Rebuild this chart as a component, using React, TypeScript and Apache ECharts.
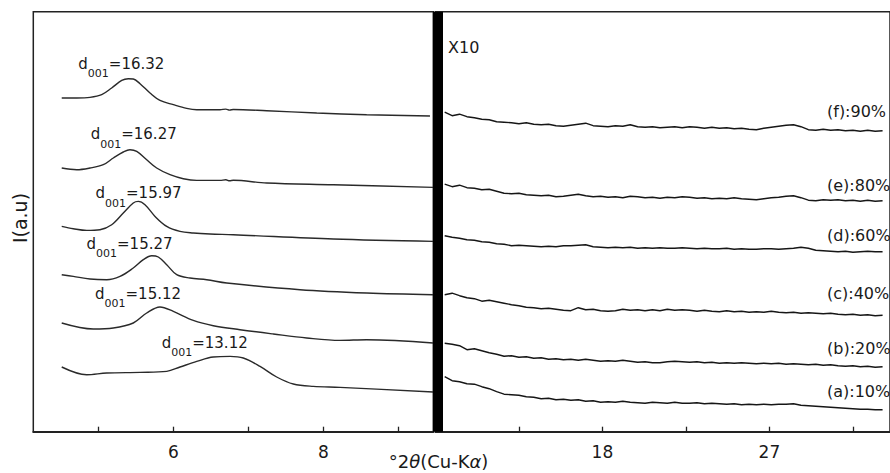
import React, { useEffect, useRef } from "react";
import * as echarts from "echarts";

// ---------- data (x: °2θ, y: intensity a.u., curves stacked) ----------
const D_SPACINGS = ["16.32", "16.27", "15.97", "15.27", "15.12", "13.12"];
const SAMPLE_LABELS = ["(f):90%", "(e):80%", "(d):60%", "(c):40%", "(b):20%", "(a):10%"];

const LEFT_TICKS = [5, 6, 7, 8, 9];
const LEFT_TICK_LABELS = [6, 8];
const RIGHT_TICKS = [13.5, 18, 22.5, 27, 31.5];
const RIGHT_TICK_LABELS = [18, 27];

const LEFT_F: [number, number][] = [
  [4.512, 333.7], [4.712, 333.7], [4.889, 334.3], [5.045, 337], [5.178, 343.7], [5.312, 351.3],
  [5.4, 353], [5.466, 352.7], [5.556, 348], [5.689, 338.7], [5.822, 331.3], [6.0, 327],
  [6.178, 323.3], [6.312, 322], [6.622, 322], [6.7, 322.6], [6.75, 321.6], [6.8, 322.2],
  [7.245, 321], [7.912, 318.7], [8.578, 317], [9.422, 315.7],
];
const LEFT_E: [number, number][] = [
  [4.512, 263.7], [4.712, 262], [4.889, 263.7], [5.066, 267], [5.2, 273.7], [5.333, 279.7],
  [5.422, 282], [5.512, 280.3], [5.645, 272], [5.778, 263.7], [5.956, 257], [6.133, 253],
  [6.312, 251.3], [6.622, 251.3], [6.7, 251.9], [6.75, 250.9], [6.8, 251.4], [7.245, 248.7],
  [8.133, 247], [9.466, 244.3],
];
const LEFT_D: [number, number][] = [
  [4.512, 205.3], [4.666, 203], [4.845, 201.3], [5.022, 202], [5.178, 207], [5.333, 218.7],
  [5.466, 228.7], [5.533, 230.3], [5.622, 227], [5.756, 215.3], [5.912, 205.3], [6.089, 200.3],
  [6.266, 198.7], [6.489, 197.7], [6.8, 197], [8.133, 192.7], [9.466, 190.3],
];
const LEFT_C: [number, number][] = [
  [4.512, 157], [4.666, 155.3], [4.889, 152.7], [5.112, 152], [5.289, 155.3], [5.466, 163.7],
  [5.6, 172], [5.712, 176], [5.8, 174.7], [5.912, 167], [6.045, 157], [6.222, 153.7],
  [6.445, 152], [6.712, 148.7], [7.689, 142], [8.578, 138.7], [9.466, 137],
];
const LEFT_B: [number, number][] = [
  [4.512, 108.7], [4.933, 102.7], [5.2, 103.7], [5.466, 108.7], [5.645, 118.7], [5.822, 124.7],
  [6.0, 120.3], [6.266, 111.3], [6.533, 106], [6.889, 102], [7.333, 97.7], [7.778, 93.7],
  [8.222, 91.3], [8.578, 92], [9.466, 88.7],
];
const LEFT_A: [number, number][] = [
  [4.512, 64.7], [4.845, 57], [5.112, 58.7], [5.556, 59.3], [5.912, 60.3], [6.089, 64.7],
  [6.312, 70.3], [6.533, 74.7], [6.756, 75.3], [6.933, 73.7], [7.156, 65.3], [7.378, 54.7],
  [7.6, 47.7], [7.866, 45.3], [8.222, 44.3], [9.466, 39.7],
];

const RIGHT_X = [
  9.5, 9.9, 10.3, 10.7, 11.1, 11.5, 11.9, 12.3, 12.7, 13.1, 13.5, 13.9, 14.3, 14.7, 15.1, 15.5,
  15.9, 16.3, 16.7, 17.1, 17.5, 17.9, 18.3, 18.7, 19.1, 19.5, 19.9, 20.3, 20.7, 21.1, 21.5, 21.9,
  22.3, 22.7, 23.1, 23.5, 23.9, 24.3, 24.7, 25.1, 25.5, 25.9, 26.3, 26.7, 27.1, 27.5, 27.9, 28.3,
  28.7, 29.1, 29.5, 29.9, 30.3, 30.7, 31.1, 31.5, 31.9, 32.3, 32.7, 33.1,
];
const RIGHT_F = [
  319.5, 316, 317.5, 315, 314, 312.5, 312, 310, 309.5, 309, 308, 309, 307.5, 307, 307.5, 306,
  305.5, 306.5, 307.5, 308.5, 306, 305.5, 305, 306, 305.5, 307, 305, 304.5, 305, 304, 304.5, 305,
  304, 305, 304.5, 303.5, 304.5, 303.5, 304, 303, 303.5, 302.5, 302, 303.5, 304.5, 305.5, 306.5, 307,
  305, 302, 301.5, 302.5, 301.5, 302, 301, 301.5, 300.5, 301.5, 300.5, 301,
];
const RIGHT_E = [
  247.5, 245, 246.5, 244, 243.5, 242, 242.5, 240.5, 238.5, 238, 238.5, 237, 236.5, 236, 236.5, 235,
  235.5, 236.5, 237.5, 236, 235, 235.5, 234.5, 235, 234, 235.5, 235, 234, 234.5, 233.5, 234.5, 234,
  235, 234.5, 233.5, 234, 233, 233.5, 233, 234, 233, 232.5, 232, 233, 234, 234.5, 235.5, 236,
  234, 231.5, 231, 232, 231.5, 232, 231, 231.5, 230.5, 231.5, 230.5, 231,
];
const RIGHT_D = [
  196, 194.5, 193.5, 192, 191.5, 190, 189.5, 188, 187.5, 186, 186.5, 186, 185.5, 185, 185.5, 185,
  186, 186, 186.5, 187, 185, 184.5, 184, 184.5, 184, 184.5, 183.5, 184, 183.5, 184, 183.5, 183.5,
  184, 183.5, 183, 183.5, 183, 183, 183.5, 182.5, 183, 182.5, 182.5, 183, 183, 182.5, 183, 183.5,
  184.5, 183.5, 181.5, 181, 180.5, 180, 180.5, 179.5, 180, 180.5, 180, 180,
];
const RIGHT_C = [
  137, 138.5, 136, 134, 133, 130.5, 131.5, 130, 128.5, 127, 126, 124.5, 124, 123, 123.5, 122.5,
  121.5, 121, 124, 122, 122.5, 121, 120.5, 121, 122.5, 121.5, 122, 121, 122, 121, 122.5, 121.5,
  122, 121.5, 120.5, 121.5, 120.5, 120, 121, 120, 120.5, 119.5, 120, 119.5, 120.5, 119.5, 119, 119.5,
  118.5, 119, 118.5, 118, 118.5, 117.5, 117, 117.5, 116.5, 117, 116, 116.5,
];
const RIGHT_B = [
  88.5, 87.5, 86, 82, 83, 81, 79, 77.5, 75.5, 76, 74.5, 75, 73.5, 74, 72.5, 73,
  72, 72.5, 71.5, 72.5, 71.5, 70.5, 71, 70.5, 71.5, 70.5, 69.5, 70, 69, 69, 70, 70.5,
  70, 69.5, 70, 69, 69.5, 68.5, 69, 68.5, 69, 68.5, 68, 68.5, 68, 68.5, 67.5, 68,
  67.5, 67, 67.5, 66.5, 67, 66, 65.5, 66, 65, 65.5, 64.5, 65,
];
const RIGHT_A = [
  55, 51, 50, 48, 47.5, 45, 43, 40, 37.5, 37, 36.5, 35, 34.5, 33, 33.5, 32,
  32.5, 31.5, 32, 30.5, 31, 29.5, 30, 29.5, 30.5, 29.5, 29, 28.5, 29.5, 29, 28.5, 29.5,
  28.5, 28.5, 29, 28, 28.5, 28, 27.5, 28, 27, 27.5, 27, 27.5, 27, 27.5, 27.5, 28,
  26.5, 26, 25.5, 25, 24.5, 24, 23.5, 23, 22.5, 22.5, 22, 22,
];

const LEFT_SERIES = [LEFT_F, LEFT_E, LEFT_D, LEFT_C, LEFT_B, LEFT_A];
const RIGHT_SERIES = [RIGHT_F, RIGHT_E, RIGHT_D, RIGHT_C, RIGHT_B, RIGHT_A];

const FONT = "DejaVu Sans";
const INK = "#1a1a1a";

// label placement (pixels)
const D_LABEL_POS: [number, number][] = [
  [78.3, 56], [90.7, 126.5], [95.5, 185.5], [86.5, 236], [95, 286], [161.7, 335],
];
const SAMPLE_LABEL_Y = [111.5, 185, 235, 293.3, 348.3, 391.7];

export default function App() {
  const ref = useRef<HTMLDivElement>(null);

  useEffect(() => {
    if (!ref.current) return;
    const chart = echarts.init(ref.current, undefined, { renderer: "svg" });

    const series: any[] = [];
    LEFT_SERIES.forEach((d, i) => {
      series.push({
        type: "line",
        name: "L" + i,
        xAxisIndex: 0,
        yAxisIndex: 0,
        data: d,
        showSymbol: false,
        symbol: "none",
        smooth: 0.35,
        lineStyle: { color: "#2a2a2a", width: 1.4 },
      });
    });
    RIGHT_SERIES.forEach((ys, i) => {
      series.push({
        type: "line",
        name: "R" + i,
        xAxisIndex: 1,
        yAxisIndex: 1,
        data: RIGHT_X.map((x, k) => [x, ys[k]]),
        showSymbol: false,
        symbol: "none",
        lineStyle: { color: "#161616", width: 1.4 },
      });
    });

    const rich = {
      m: { fontSize: 15, lineHeight: 16, verticalAlign: "top", fontFamily: FONT, fill: INK, color: INK },
      s: { fontSize: 11, lineHeight: 10, verticalAlign: "top", padding: [12, 0, 0, 0], fontFamily: FONT, fill: INK, color: INK },
    };

    const graphics: any[] = [
      {
        type: "rect",
        shape: { x: 433, y: 11.7, width: 10, height: 420 },
        style: { fill: "#000" },
        z: 100,
      },
      {
        type: "text",
        x: 20,
        y: 218,
        rotation: Math.PI / 2,
        style: { text: "I(a.u)", font: `19px "${FONT}"`, fill: INK, textAlign: "center", textVerticalAlign: "middle" },
        z: 100,
      },
      {
        type: "text",
        x: 438.5,
        y: 461.5,
        style: {
          text: "{n|°2}{i|θ}{n|(Cu-K}{i|α}{n|)}",
          rich: {
            n: { fontSize: 18, fontFamily: FONT, fill: INK },
            i: { fontSize: 18, fontFamily: FONT, fontStyle: "italic", fill: INK },
          },
          textAlign: "center",
          textVerticalAlign: "middle",
        },
        z: 100,
      },
      {
        type: "text",
        x: 448,
        y: 47.5,
        style: { text: "X10", font: `16px "${FONT}"`, fill: INK, textAlign: "left", textVerticalAlign: "middle" },
        z: 100,
      },
    ];
    D_SPACINGS.forEach((d, i) => {
      graphics.push({
        type: "text",
        x: D_LABEL_POS[i][0],
        y: D_LABEL_POS[i][1],
        style: {
          text: `{m|d}{s|001}{m|=${d}}`,
          rich,
          textAlign: "left",
          textVerticalAlign: "top",
        },
        z: 100,
      });
    });
    SAMPLE_LABELS.forEach((t, i) => {
      graphics.push({
        type: "text",
        x: 827,
        y: SAMPLE_LABEL_Y[i],
        style: { text: t, font: `16px "${FONT}"`, fill: INK, textAlign: "left", textVerticalAlign: "middle" },
        z: 100,
      });
    });

    const xAxisCommon = {
      type: "value",
      position: "bottom",
      splitLine: { show: false },
      axisLine: { show: true, onZero: false, lineStyle: { color: "#222", width: 1.8 } },
      axisLabel: { color: INK, fontSize: 17, fontFamily: FONT, margin: 11.5 },
      axisTick: { show: true, inside: true, length: 5, lineStyle: { color: "#222", width: 1.3 } },
    };

    chart.setOption({
      animation: false,
      textStyle: { fontFamily: FONT },
      grid: [
        { left: 33.3, top: 11.7, width: 400, height: 420, show: true, borderColor: "#222", borderWidth: 1.5, backgroundColor: "transparent" },
        { left: 435.4, top: 11.7, width: 464.5, height: 420, show: true, borderColor: "#222", borderWidth: 1.5, backgroundColor: "transparent" },
      ],
      xAxis: [
        {
          ...xAxisCommon,
          gridIndex: 0,
          min: 4.133,
          max: 9.4663,
          axisLabel: { ...xAxisCommon.axisLabel, customValues: LEFT_TICK_LABELS },
          axisTick: { ...xAxisCommon.axisTick, customValues: LEFT_TICKS },
        },
        {
          ...xAxisCommon,
          gridIndex: 1,
          min: 9,
          max: 33.5,
          axisLabel: { ...xAxisCommon.axisLabel, customValues: RIGHT_TICK_LABELS },
          axisTick: { ...xAxisCommon.axisTick, customValues: RIGHT_TICKS },
        },
      ],
      yAxis: [
        { type: "value", gridIndex: 0, min: 0, max: 420, show: false, splitLine: { show: false } },
        { type: "value", gridIndex: 1, min: 0, max: 420, show: false, splitLine: { show: false } },
      ],
      series,
      graphic: { elements: graphics },
    });

    return () => chart.dispose();
  }, []);

  return (
    <div
      ref={ref}
      style={{ position: "fixed", left: 0, top: 0, width: 890, height: 473, background: "#fff" }}
    />
  );
}
